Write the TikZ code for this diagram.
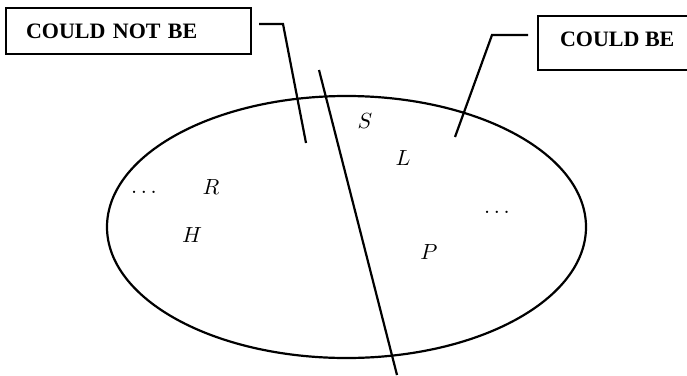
\documentclass[tikz,border=0pt]{standalone}
\usepackage{graphicx}
\usepackage{fontspec}
\newfontfamily\boxfont{Liberation Serif}
\usetikzlibrary{shapes.geometric}
\newcommand{\setlbl}[1]{\scalebox{2}{\fontsize{11}{13}\selectfont$#1$}}
\begin{document}
\begin{tikzpicture}[x=1pt,y=-1pt,
  lbl/.style={inner sep=0pt},
  tag/.style={draw, line width=2.2pt, font=\boxfont\bfseries\fontsize{22}{26}\selectfont, inner ysep=0pt, text height=14.6pt},
  leader/.style={line width=2.2pt},
]
\useasboundingbox (0,0) rectangle (687,375);
% set
\node[draw, ellipse, line width=2.2pt, minimum width=479pt, minimum height=262pt, inner sep=0pt] (set) at (346.5,227) {};
% boxes
\node[tag, anchor=west, minimum width=245pt, minimum height=46pt, text width=205pt, inner xsep=20pt, align=left, text depth=0pt] (notbe) at (5,31) {COULD NOT BE};
\node[tag, anchor=west, minimum height=54pt, inner xsep=22pt, text depth=7pt] (be) at (537,43) {COULD BE};
% labels
\node[lbl] (S) at (365,121) {\setlbl{S}};
\node[lbl] (L) at (403,158) {\setlbl{L}};
\node[lbl] (Rd) at (497,212) {\setlbl{\dots}};
\node[lbl] (P) at (429,252) {\setlbl{P}};
\node[lbl] (R) at (211,187) {\setlbl{R}};
\node[lbl] (H) at (192,235) {\setlbl{H}};
\node[lbl] (Ld) at (144,192) {\setlbl{\dots}};
% leaders
\coordinate (a1) at (259,24);
\coordinate (a2) at (283,24);
\coordinate (a3) at (306,143);
\coordinate (b1) at (528,35);
\coordinate (b2) at (492,35);
\coordinate (b3) at (455,137);
\coordinate (c1) at (319,70);
\coordinate (c2) at (397,375);
\draw[leader] (a1) -- (a2) -- (a3);
\draw[leader] (b1) -- (b2) -- (b3);
\draw[leader] (c1) -- (c2);
\end{tikzpicture}
\end{document}
